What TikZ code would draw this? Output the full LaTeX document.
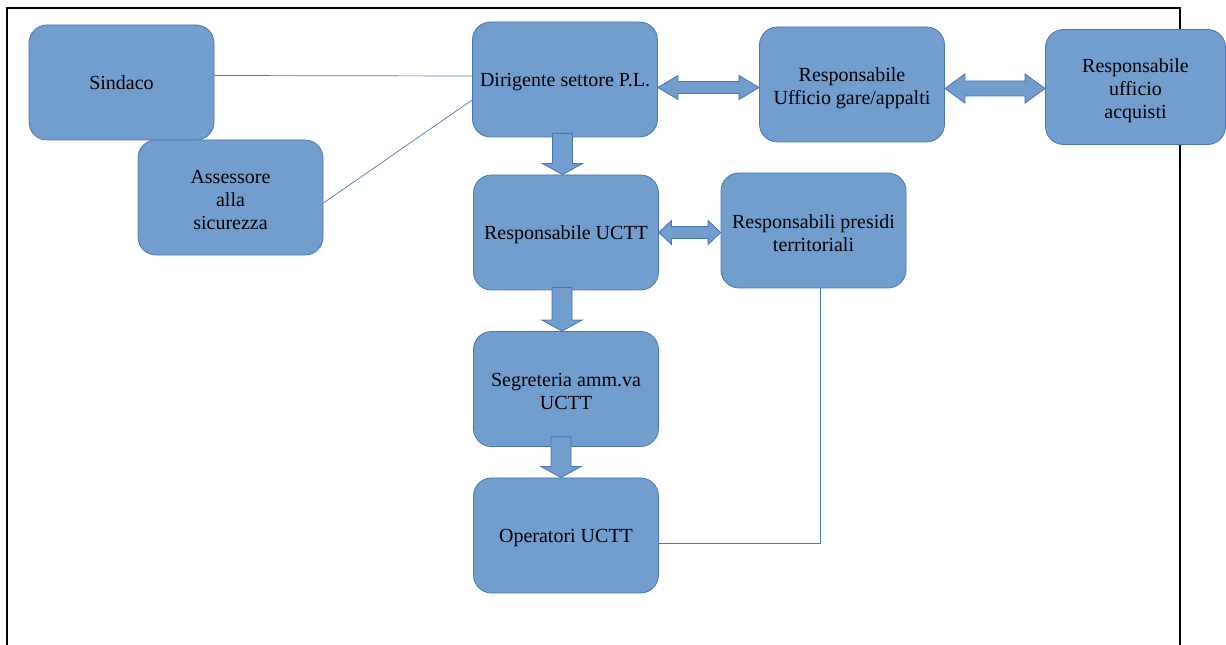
\documentclass[tikz,border=0pt]{standalone}
\usepackage{fontspec}
\setmainfont{Liberation Serif}
\usepackage{tikz}
\usetikzlibrary{calc}

\definecolor{boxfill}{RGB}{114,158,206}
\definecolor{boxedge}{RGB}{70,118,184}

\newcommand{\linestrut}{\rule[-5pt]{0pt}{24pt}}
\newcommand{\fatdown}[2]{
        \draw[fatarrow] let \p1=(#1), \p2=(#2) in
            (\x2-10pt,\y1) -- (\x2+10pt,\y1) -- (\x2+10pt,\y2+11pt) -- (\x2+20pt,\y2+11pt)
            -- (\x2,\y2) -- (\x2-20pt,\y2+11pt) -- (\x2-10pt,\y2+11pt) -- cycle;}
\newcommand{\fatboth}[5]{
        \draw[fatarrow] let \p1=(#1), \p2=(#2) in
            (\x1,\y1) -- (\x1+#5,\y1+#4) -- (\x1+#5,\y1+#3) -- (\x2-#5,\y1+#3) -- (\x2-#5,\y1+#4)
            -- (\x2,\y1) -- (\x2-#5,\y1-#4) -- (\x2-#5,\y1-#3) -- (\x1+#5,\y1-#3) -- (\x1+#5,\y1-#4) -- cycle;}

\begin{document}
\begin{tikzpicture}[x=1pt, y=1pt,
        office/.style={draw=boxedge, line width=0.8pt, fill=boxfill, rounded corners=18pt,
            minimum width=185pt, minimum height=115pt, inner sep=0pt, align=center,
            font=\fontsize{20}{23}\selectfont,
            execute at begin node=\linestrut, execute at end node=\linestrut},
        stacked/.style={execute at end node=\rule[-5pt]{0pt}{#1}},
        fatarrow/.style={draw=boxedge, line width=0.8pt, fill=boxfill},
        link/.style={draw=boxedge, line width=0.7pt}]
        \useasboundingbox (0,0) rectangle (1226,645);
        \draw[line width=1.2pt] (7,0) -- (7,637) -- (1180,637) -- (1180,0);

        \node[office] (sindaco) at (121.5,562.5) {Sindaco};
        \node[office, stacked=74pt] (assessore) at (230.5,447.5) {Assessore\\alla\\sicurezza};
        \node[office] (dirigente) at (565,565.5) {Dirigente settore P.L.};
        \node[office, stacked=51pt] (gare) at (852,560.5) {Responsabile\\Ufficio gare/appalti};
        \node[office, stacked=74pt, minimum width=180pt] (acquisti) at (1135.5,558) {Responsabile\\ufficio\\acquisti};
        \node[office] (uctt) at (566,412.5) {Responsabile UCTT};
        \node[office, stacked=52pt] (presidi) at (813.5,414.5) {Responsabili presidi\\territoriali};
        \node[office, stacked=51pt] (segreteria) at (566,256) {Segreteria amm.va\\UCTT};
        \node[office] (operatori) at (566,109.5) {Operatori UCTT};

        \draw[link] ([yshift=7pt]sindaco.east) -- ([yshift=3.5pt]dirigente.west);
        \draw[link] ([yshift=-5.5pt]assessore.east) -- ([yshift=-20.5pt]dirigente.west);
        \draw[link] ([xshift=6.5pt]presidi.south) |- ([yshift=-7.5pt]operatori.east);

        \fatdown{[yshift=4pt]dirigente.south}{[xshift=-3.5pt]uctt.north}
        \fatdown{[yshift=3pt]uctt.south}{[xshift=-4pt]segreteria.north}
        \fatdown{[yshift=10pt]segreteria.south}{[xshift=-5pt]operatori.north}
        \fatboth{[yshift=-8pt]dirigente.east}{gare.west}{6pt}{12pt}{20pt}
        \fatboth{[yshift=-4pt]gare.east}{acquisti.west}{7.5pt}{14.5pt}{20pt}
        \fatboth{uctt.east}{presidi.west}{6pt}{12pt}{12.5pt}
    \end{tikzpicture}
\end{document}
